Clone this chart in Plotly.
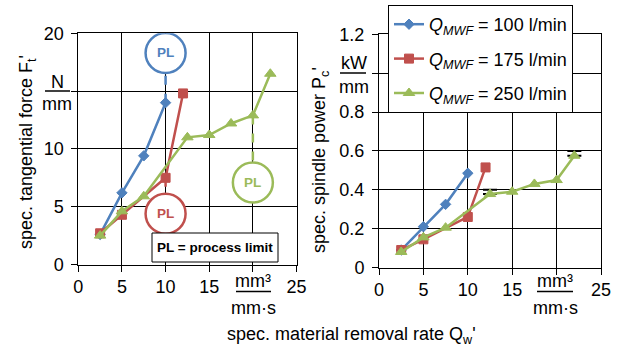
import plotly.graph_objects as go

# ---------------- data ----------------
flows = ["100", "175", "250"]
colors = ["#4F81BD", "#C0504D", "#9BBB59"]
symbols = ["diamond", "square", "triangle-up"]
msizes = [8, 9, 10]

qw_100 = [2.5, 5, 7.5, 10]
ft_100 = [2.6, 6.2, 9.4, 14.0]
pc_100 = [0.09, 0.21, 0.325, 0.485]

qw_175 = [2.5, 5, 10, 12]
ft_175 = [2.7, 4.3, 7.5, 14.8]
pc_175 = [0.09, 0.145, 0.26, 0.515]

qw_250 = [2.5, 5, 7.5, 12.5, 15, 17.5, 20, 22]
ft_250 = [2.5, 4.6, 5.9, 11.0, 11.2, 12.2, 12.9, 16.5]
pc_250 = [0.08, 0.155, 0.205, 0.378, 0.39, 0.43, 0.45, 0.575]
pc_250_err = [0, 0, 0, 0.022, 0, 0, 0, 0.025]

x_ticks = [0, 5, 10, 15, 20, 25]
x_ticktext = ["0", "5", "10", "15", "", "25"]
ft_ticks = [0, 5, 10, 15, 20]
ft_ticktext = ["0", "5", "10", "", "20"]
pc_ticks = [0, 0.2, 0.4, 0.6, 0.8, 1.0, 1.2]
pc_ticktext = ["0", "0.2", "0.4", "0.6", "0.8", "", "1.2"]

# process-limit circles: (series index, x, y) in data units of left chart
pl_marks = [(0, 10, 18.3), (1, 10, 4.4), (2, 20, 7.1)]

FONT = "Liberation Sans, Arial, sans-serif"
W, H = 618, 350


def px(v):
    return v / W


def py(v):
    return 1 - v / H


series = [(qw_100, ft_100, pc_100), (qw_175, ft_175, pc_175), (qw_250, ft_250, pc_250)]

fig = go.Figure()

for i, (qx, ft, pc) in enumerate(series):
    name = "<i>Q</i><sub><i>MWF</i></sub> = %s l/min" % flows[i]
    mk = dict(symbol=symbols[i], size=msizes[i], color=colors[i],
              line=dict(color=colors[i], width=1))
    fig.add_trace(go.Scatter(x=qx, y=ft, mode="lines+markers", name=name,
                             line=dict(color=colors[i], width=2.5), marker=mk,
                             xaxis="x", yaxis="y", showlegend=False,
                             legendgroup=flows[i]))

# error marks on right chart (drawn below the green series)
ex = [q for q, e in zip(qw_250, pc_250_err) if e > 0]
ey = [p for p, e in zip(pc_250, pc_250_err) if e > 0]
ee = [e for e in pc_250_err if e > 0]
fig.add_trace(go.Scatter(x=ex, y=ey, mode="markers", marker=dict(size=1, opacity=0),
                         error_y=dict(type="data", array=ee, arrayminus=[0] * len(ee),
                                      symmetric=False, color="black", thickness=2, width=7),
                         xaxis="x2", yaxis="y2", showlegend=False, hoverinfo="skip"))

for i, (qx, ft, pc) in enumerate(series):
    name = "<i>Q</i><sub><i>MWF</i></sub> = %s l/min" % flows[i]
    mk = dict(symbol=symbols[i], size=msizes[i], color=colors[i],
              line=dict(color=colors[i], width=1))
    fig.add_trace(go.Scatter(x=qx, y=pc, mode="lines+markers", name=name,
                             line=dict(color=colors[i], width=2.5), marker=mk,
                             xaxis="x2", yaxis="y2", showlegend=True,
                             legendgroup=flows[i]))

axis_common = dict(showgrid=True, gridcolor="black", gridwidth=1, showline=True,
                   mirror=True, linecolor="black", linewidth=1, ticks="outside",
                   ticklen=6, tickcolor="black", tickwidth=1, zeroline=False,
                   automargin=False,
                   tickfont=dict(family=FONT, size=18, color="black"), fixedrange=True)

fig.update_layout(
    template="none",
    width=W, height=H, margin=dict(l=0, r=0, t=0, b=0, pad=0, autoexpand=False),
    paper_bgcolor="white", plot_bgcolor="white",
    font=dict(family=FONT, size=18, color="black"),
    xaxis=dict(domain=[px(78.3), px(296.5)], range=[0, 25], tickvals=x_ticks,
               ticktext=x_ticktext, anchor="y", **axis_common),
    yaxis=dict(domain=[py(264.5), py(33.3)], range=[0, 20], tickvals=ft_ticks,
               ticktext=ft_ticktext, anchor="x", ticklabelstandoff=4, **axis_common),
    xaxis2=dict(domain=[px(379), px(601)], range=[0, 25], tickvals=x_ticks,
                ticktext=x_ticktext, anchor="y2", **axis_common),
    yaxis2=dict(domain=[py(267.5), py(34.3)], range=[0, 1.2], tickvals=pc_ticks,
                ticktext=pc_ticktext, anchor="x2", ticklabelstandoff=4, **axis_common),
    legend=dict(x=px(388), y=py(5), xanchor="left", yanchor="top",
                bgcolor="white", bordercolor="black", borderwidth=1,
                font=dict(family=FONT, size=18, color="black"),
                traceorder="grouped", tracegroupgap=8, itemwidth=30),
    showlegend=True,
)

shapes = []
annotations = []


def note(x, y, text, size=18, color="black", ref="paper", angle=0):
    if ref == "paper":
        x, y, xr, yr = px(x), py(y), "paper", "paper"
    else:
        xr, yr = "x", "y"
    annotations.append(dict(x=x, y=y, xref=xr, yref=yr, text=text, showarrow=False,
                            xanchor="center", yanchor="middle", textangle=angle,
                            font=dict(family=FONT, size=size, color=color)))


# PL connectors and circles
last_pts = [(qw_100[-1], ft_100[-1]), (qw_175[2], ft_175[2]), (qw_250[6], ft_250[6])]
for (si, cx, cy), (lx, ly) in zip(pl_marks, last_pts):
    shapes.append(dict(type="line", xref="x", yref="y", x0=lx, x1=cx, y0=ly, y1=cy,
                       line=dict(color=colors[si], width=2.5, dash="dash"), layer="between"))
for si, cx, cy in pl_marks:
    shapes.append(dict(type="circle", xref="x", yref="y", xsizemode="pixel",
                       ysizemode="pixel", xanchor=cx, yanchor=cy, x0=-20, x1=20,
                       y0=-20, y1=20, line=dict(color=colors[si], width=2.5),
                       fillcolor="white", layer="above"))
    note(cx, cy, "<b>PL</b>", size=13.5, color=colors[si], ref="data")

# "PL = process limit" box
shapes.append(dict(type="rect", xref="paper", yref="paper", x0=px(152), x1=px(278),
                   y0=py(262), y1=py(233), line=dict(color="black", width=1),
                   fillcolor="white", layer="above"))
note(215, 247.5, "<b>PL = process limit</b>", size=13.5)


# unit fractions
def frac(cx, top, bot, ytop, ybot, bar_y, bx0, bx1):
    note(cx, ytop, top)
    note(cx, ybot, bot)
    shapes.append(dict(type="line", xref="paper", yref="paper", x0=px(bx0), x1=px(bx1),
                       y0=py(bar_y), y1=py(bar_y), line=dict(color="black", width=1.5)))


frac(57, "N", "mm", 82, 104, 91, 45, 70)
frac(354, "kW", "mm", 63, 87, 73, 340, 366)
frac(253, "mm³", "mm·s", 281, 308, 291.5, 236, 271)
frac(555, "mm³", "mm·s", 281, 308, 291.5, 537, 573)

# axis titles
note(27, 152, "spec. tangential force F<sub>t</sub>'", angle=-90)
note(321, 160, "spec. spindle power P<sub>c</sub>'", angle=-90)
note(351, 335, "spec. material removal rate Q<sub>w</sub>'")

fig.update_layout(shapes=shapes, annotations=annotations)
fig.write_html("out.html", config={"displayModeBar": False},
               post_script="document.body.style.margin='0';document.body.style.padding='0';")
